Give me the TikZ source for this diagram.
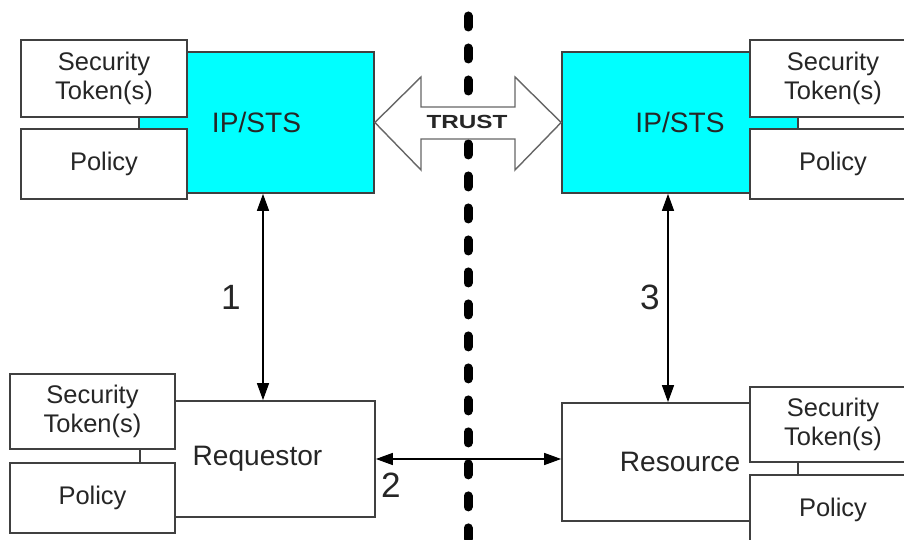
\documentclass[tikz,border=0pt]{standalone}
\usepackage{fontspec}
\setmainfont{Liberation Sans}
\usepackage{tikz}
\usetikzlibrary{arrows.meta,calc}
\definecolor{stscyan}{HTML}{00FFFF}

\begin{document}
\begin{tikzpicture}[x=0.02cm, y=-0.02cm,
    box/.style={draw=black!75, line width=1pt, fill=white, text=black!85, inner sep=0pt},
    sidebox/.style={box, minimum width=3.32cm, align=center, font=\fontsize{14.5}{16.5}\selectfont},
    mainbox/.style={box, minimum width=4.7cm, font=\fontsize{16}{19}\selectfont},
    link/.style={black, line width=0.8pt, {Triangle[length=0.34cm,width=0.24cm]}-{Triangle[length=0.34cm,width=0.24cm]}},
    num/.style={text=black!85, inner sep=0pt, font=\fontsize{20}{24}\selectfont}]
    \useasboundingbox (0,0) rectangle (904,540);
    \clip (0,0) rectangle (904,540);

    % Trust boundary
    \draw[line width=0.18cm, line cap=round, dash pattern=on 0.22cm off 0.42cm] (468,16) -- (468,560);

    % Identity providers
    \node[mainbox, fill=stscyan, minimum height=2.82cm] (stsL) at (256.5,122.5) {IP/STS};
    \node[mainbox, fill=stscyan, minimum height=2.82cm, minimum width=4.72cm] (stsR) at (680,122.5) {IP/STS};
    \node[sidebox, minimum height=1.54cm] (tokL) at (104,78.5) {Security\\Token(s)};
    \node[sidebox, minimum height=1.4cm] (polL) at (104,164) {Policy};
    \node[sidebox, minimum height=1.54cm] (tokR) at (833,78.5) {Security\\Token(s)};
    \node[sidebox, minimum height=1.4cm] (polR) at (833,164) {Policy};

    % Requestor and resource
    \node[mainbox, minimum height=2.32cm] (req) at (257.5,459) {Requestor};
    \node[mainbox, minimum height=2.36cm, minimum width=4.72cm] (res) at (680,462) {Resource};
    \node[sidebox, minimum width=3.3cm, minimum height=1.5cm] (tokReq) at (92.5,411.5) {Security\\Token(s)};
    \node[sidebox, minimum width=3.3cm, minimum height=1.4cm] (polReq) at (92.5,498) {Policy};
    \node[sidebox, minimum height=1.5cm] (tokRes) at (833,424.5) {Security\\Token(s)};
    \node[sidebox, minimum height=1.4cm] (polRes) at (833,510) {Policy};

    % Trust arrow
    \draw[draw=black!60, fill=white, line width=0.8pt] (stsL.east) -- (421,77) -- (421,107) -- (515,107) -- (515,77)
        -- (stsR.west) -- (515,170) -- (515,139) -- (421,139) -- (421,170) -- cycle;
    \node[text=black!85, font=\fontsize{10.8}{12}\selectfont\bfseries] (trust) at (467,122) {\scalebox{1.28}[1]{TRUST}};

    % Message flows
    \draw[link] ([xshift=0.13cm]stsL.south) -- ([xshift=0.13cm]stsL.south |- req.north);
    \draw[link] (req.east) -- (req.east -| res.west);
    \draw[link] ([xshift=-0.24cm]stsR.south) -- ([xshift=-0.24cm]stsR.south |- res.north);
    \node[num] (n1) at (231,297) {1};
    \node[num] (n2) at (391,485) {2};
    \node[num] (n3) at (650,297) {3};
\end{tikzpicture}
\end{document}
